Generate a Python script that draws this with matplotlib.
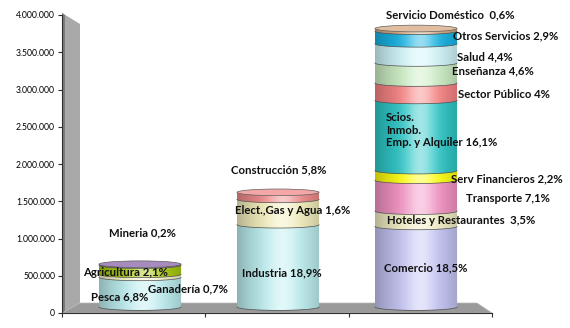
import numpy as np
import matplotlib
matplotlib.use("Agg")
import matplotlib.pyplot as plt
from matplotlib.patches import Polygon, Ellipse
from matplotlib.colors import to_rgb
from matplotlib.ticker import FuncFormatter, MultipleLocator

W, H = 570, 328
FONT = ["Lato", "DejaVu Sans"]

# ---- data (ocupados por rama, apilados de abajo hacia arriba) ----
prim_values = [398000, 41000, 123000, 12000]          # Pesca, Ganadería, Agricultura, Mineria
prim_colors = ["#bdeef0", "#f4f0c8", "#a8c810", "#8a64a8"]

sec_values = [1105000, 340000, 94000]                 # Industria, banda crema, banda roja
sec_colors = ["#bdeef0", "#f2eebc", "#f08a8a"]

ter_values = [1082000, 205000, 415000, 129000, 942000,
              234000, 269000, 257000, 170000, 35000]
ter_colors = ["#c4c4f4", "#f2eec4", "#f494c4", "#ffff10", "#30c8c8",
              "#f88484", "#cceec4", "#d0f6fa", "#18b4e4", "#d8a880"]

# label text, left x (px), center y (px)
labels = [
    ("Mineria 0,2%", 109, 233),
    ("Agricultura 2,1%", 83, 272),
    ("Ganadería 0,7%", 148, 289),
    ("Pesca 6,8%", 91, 297),
    ("Construcción 5,8%", 231, 170),
    ("Elect.,Gas y Agua 1,6%", 235, 211),
    ("Industria 18,9%", 242, 273),
    ("Servicio Doméstico  0,6%", 386, 15),
    ("Otros Servicios 2,9%", 453, 36),
    ("Salud 4,4%", 457, 57),
    ("Enseñanza 4,6%", 452, 71),
    ("Sector Público 4%", 458, 94),
    ("Scios.\nInmob.\nEmp. y Alquiler 16,1%", 386, 130),
    ("Serv Financieros 2,2%", 451, 179),
    ("Transporte 7,1%", 466, 198),
    ("Hoteles y Restaurantes  3,5%", 387, 220),
    ("Comercio 18,5%", 384, 268),
]


def px_axes(fig, left, top, right, bottom):
    return fig.add_axes([left / W, 1 - bottom / H, (right - left) / W, (bottom - top) / H])


def shade(color, n=80):
    base = np.array(to_rgb(color))
    t = np.linspace(0, 1, n)
    hl = 0.55 * np.exp(-((t - 0.55) / 0.18) ** 2)
    dk = 0.25 * ((t - 0.55) / 0.55) ** 2
    rgb = base[None, :] * (1 - dk[:, None])
    rgb = rgb + (1 - rgb) * hl[:, None]
    return np.clip(rgb[None, :, :], 0, 1)


def draw_cylinder(ax, xc, values, colors, width=0.595, eh=90000):
    hw = width / 2
    th = np.linspace(np.pi, 2 * np.pi, 60)
    bottom = 0
    for v, c in zip(values, colors):
        top = bottom + v
        xs = xc + hw * np.cos(th)
        ys = bottom + eh / 2 * np.sin(th)
        verts = [(xc - hw, top)] + list(zip(xs, ys)) + [(xc + hw, top)]
        patch = Polygon(verts, closed=True, facecolor="none", edgecolor="none")
        ax.add_patch(patch)
        im = ax.imshow(shade(c), extent=[xc - hw, xc + hw, bottom - eh / 2, top],
                       aspect="auto", origin="lower", zorder=2, interpolation="bilinear")
        im.set_clip_path(patch)
        ax.plot(xs, ys, color="#505050", lw=0.5, zorder=3)
        bottom = top
    topc = np.array(to_rgb(colors[-1]))
    topc = topc + (1 - topc) * 0.25
    ax.add_patch(Ellipse((xc, bottom), width, eh, facecolor=topc,
                         edgecolor="#606060", lw=0.5, zorder=4))


fig = plt.figure(figsize=(W / 100, H / 100), dpi=100)

# back wall and floor
bg = fig.add_axes([0, 0, 1, 1])
bg.set_xlim(0, W)
bg.set_ylim(H, 0)
bg.axis("off")
bg.add_patch(Polygon([(62, 13), (80, 24), (80, 303), (62, 313)], closed=True,
                     facecolor="#a9a9a9", edgecolor="none"))
bg.add_patch(Polygon([(62, 13), (65, 15), (65, 311), (62, 313)], closed=True,
                     facecolor="#7c7c7c", edgecolor="none"))
bg.add_patch(Polygon([(62, 313), (80, 303), (477, 303), (492, 313)], closed=True,
                     facecolor="#9a9a9a", edgecolor="#b8b8b8", lw=0.5))

# value axis
ax = px_axes(fig, 62, 15, 492, 313)
ax.patch.set_alpha(0)
ax.set_ylim(0, 4000000)
ax.set_xlim(0, 3)
ax.yaxis.set_major_locator(MultipleLocator(500000))
ax.yaxis.set_major_formatter(FuncFormatter(lambda v, p: f"{int(v):,}".replace(",", ".")))
ax.set_xticks([0, 1, 2, 3])
ax.set_xticklabels([])
for s in ["top", "right"]:
    ax.spines[s].set_visible(False)
for s in ["left", "bottom"]:
    ax.spines[s].set_color("#303030")
    ax.spines[s].set_linewidth(0.8)
ax.tick_params(axis="both", direction="out", length=3, width=0.8, colors="#303030", pad=2)
for lab in ax.get_yticklabels():
    lab.set_family(FONT)
    lab.set_fontsize(6.2)
    lab.set_color("black")

# cylinders
cy = px_axes(fig, 71, 307 - 4000000 * 74.5e-6, 485, 307 + 150000 * 74.5e-6)
cy.patch.set_alpha(0)
cy.axis("off")
for i, (vals, cols) in enumerate([(prim_values, prim_colors),
                                  (sec_values, sec_colors),
                                  (ter_values, ter_colors)]):
    draw_cylinder(cy, i, vals, cols)
cy.set_xlim(-0.5, 2.5)
cy.set_ylim(-150000, 4000000)

for text, x, y in labels:
    fig.text(x / W, 1 - y / H, text, ha="left", va="center", family=FONT,
             fontweight="bold", fontsize=8.2, color="#101010", linespacing=1.15)

fig.savefig("out.png", dpi=100)
